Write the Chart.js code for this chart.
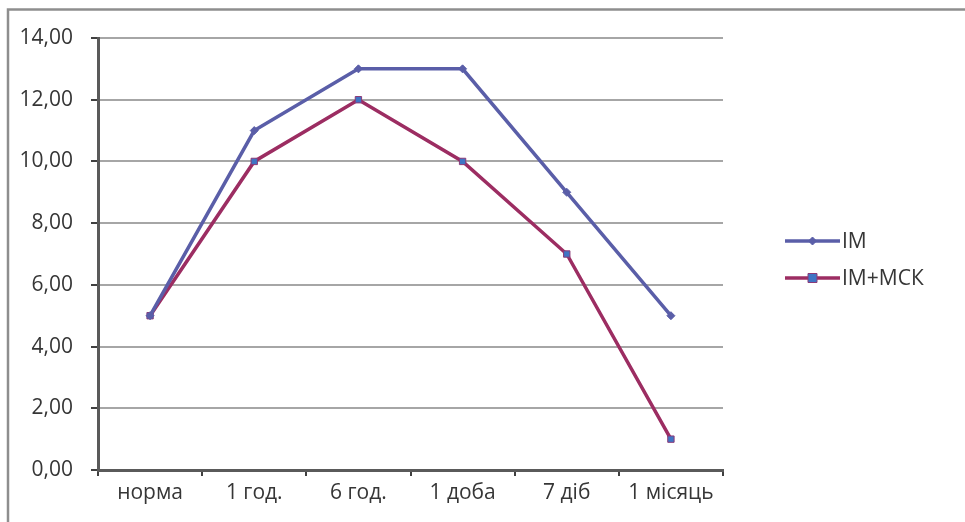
<!DOCTYPE html>
<html>
<head>
<meta charset="utf-8">
<script src="https://cdn.jsdelivr.net/npm/chart.js@4/dist/chart.umd.min.js"></script>
<style>
  html, body { margin: 0; padding: 0; background: #ffffff; }
  #wrap { position: relative; width: 965px; height: 522px; }
</style>
</head>
<body>
<div id="wrap"><canvas id="c" width="965" height="522"></canvas></div>
<script>
// Time points of observation
const categories = ['норма', '1 год.', '6 год.', '1 доба', '7 діб', '1 місяць'];
// Series values
const seriesIM = [5, 11, 13, 13, 9, 5];
const seriesIMMSK = [5, 10, 12, 10, 7, 1];
const seriesNames = ['IM', 'IM+МСК'];
// Value axis
const yMin = 0, yMax = 14, yStep = 2;

const FONT = '"Open Sans", Lato, sans-serif';
const FONT_SIZE = 21;
const TEXT_COLOR = '#363636';

// Outer frame around the chart object
const framePlugin = {
  id: 'frame',
  beforeDraw(chart) {
    const ctx = chart.ctx;
    ctx.save();
    ctx.fillStyle = '#ffffff';
    ctx.fillRect(0, 0, chart.width, chart.height);
    ctx.strokeStyle = '#8e8e8e';
    ctx.lineWidth = 2.5;
    ctx.strokeRect(8, 9.5, chart.width + 20, chart.height + 20);
    ctx.restore();
  }
};

// Legend on the right: a short line with the series marker, then the name
const sideLegend = {
  id: 'sideLegend',
  afterDraw(chart) {
    const ctx = chart.ctx;
    const x0 = 785, x1 = 840, rows = [241, 278];
    chart.data.datasets.forEach((ds, i) => {
      const y = rows[i];
      const cx = (x0 + x1) / 2, r = ds.pointRadius;
      ctx.save();
      ctx.strokeStyle = ds.borderColor;
      ctx.lineWidth = ds.borderWidth;
      ctx.beginPath(); ctx.moveTo(x0, y); ctx.lineTo(x1, y); ctx.stroke();
      ctx.fillStyle = ds.pointBackgroundColor;
      ctx.strokeStyle = ds.pointBorderColor;
      ctx.lineWidth = ds.pointBorderWidth;
      ctx.beginPath();
      if (ds.pointStyle === 'rect') {
        ctx.rect(cx - r, y - r, 2 * r, 2 * r);
      } else {
        ctx.moveTo(cx, y - r); ctx.lineTo(cx + r, y); ctx.lineTo(cx, y + r); ctx.lineTo(cx - r, y); ctx.closePath();
      }
      ctx.fill(); ctx.stroke();
      ctx.fillStyle = TEXT_COLOR;
      ctx.font = FONT_SIZE + 'px ' + FONT;
      ctx.textBaseline = 'middle';
      ctx.fillText(ds.label, x1 + 2, y + 1);
      ctx.restore();
    });
  }
};

new Chart(document.getElementById('c'), {
  type: 'line',
  data: {
    labels: categories,
    datasets: [
      {
        label: seriesNames[0],
        data: seriesIM,
        borderColor: '#5a5ea8',
        backgroundColor: '#5a5ea8',
        borderWidth: 3.5,
        pointStyle: 'rectRot',
        pointRadius: 4,
        pointBackgroundColor: '#5a5ea8',
        pointBorderColor: '#5a5ea8',
        pointBorderWidth: 1,
        tension: 0
      },
      {
        label: seriesNames[1],
        data: seriesIMMSK,
        borderColor: '#9c2d62',
        backgroundColor: '#9c2d62',
        borderWidth: 3.5,
        pointStyle: 'rect',
        pointRadius: 4.5,
        pointBackgroundColor: '#3f74c4',
        pointBorderColor: '#8a3a78',
        pointBorderWidth: 1,
        tension: 0
      }
    ]
  },
  options: {
    responsive: false,
    animation: false,
    layout: { padding: { left: 0, right: 242, top: 38, bottom: 0 } },
    plugins: { legend: { display: false }, tooltip: { enabled: false } },
    scales: {
      x: {
        offset: true,
        grid: {
          offset: true,
          drawOnChartArea: false,
          drawTicks: true,
          tickLength: 6,
          color: '#404040',
          lineWidth: 2
        },
        border: { display: true, color: '#5a5a5a', width: 3 },
        ticks: { color: TEXT_COLOR, font: { family: FONT, size: FONT_SIZE }, padding: 4, maxRotation: 0, autoSkip: false },
        afterFit(scale) { scale.height = 52; }
      },
      y: {
        min: yMin,
        max: yMax,
        grid: {
          color: '#a6a6a6',
          lineWidth: 2,
          drawTicks: true,
          tickLength: 7,
          tickColor: '#404040'
        },
        border: { display: true, color: '#5a5a5a', width: 3 },
        ticks: {
          stepSize: yStep,
          color: TEXT_COLOR,
          font: { family: FONT, size: FONT_SIZE },
          padding: 18,
          callback: v => v.toFixed(2).replace('.', ',')
        },
        afterFit(scale) { scale.width = 98; }
      }
    }
  },
  plugins: [framePlugin, sideLegend]
});
</script>
</body>
</html>
